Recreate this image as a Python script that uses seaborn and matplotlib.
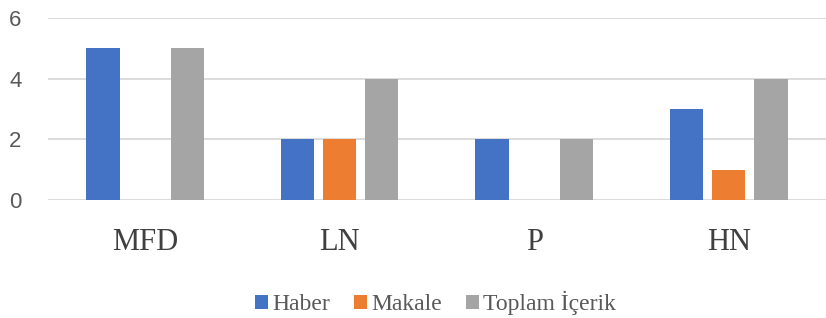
import seaborn as sns
import numpy as np
import pandas as pd
import matplotlib.pyplot as plt

# data
categories = ["MFD", "LN", "P", "HN"]
series_names = ["Haber", "Makale", "Toplam İçerik"]
haber = [5, 2, 2, 3]
makale = [0, 2, 0, 1]
toplam = [5, 4, 2, 4]
colors = ["#4472C4", "#ED7D31", "#A5A5A5"]

df = pd.DataFrame({
    "kategori": categories * 3,
    "seri": [series_names[0]] * 4 + [series_names[1]] * 4 + [series_names[2]] * 4,
    "deger": haber + makale + toplam,
})

sns.set_style("white")
fig = plt.figure(figsize=(8.26, 3.18), dpi=100)
ax = fig.add_axes([0.058, 0.371, 0.942, 0.572])

sns.barplot(data=df, x="kategori", y="deger", hue="seri", palette=colors,
            saturation=1, width=0.65, gap=0.21, linewidth=0, ax=ax, zorder=3)

ax.set_ylim(0, 6)
ax.set_yticks([0, 2, 4, 6])
ax.yaxis.grid(True, color="#D9D9D9", linewidth=1.3, zorder=0)
ax.set_axisbelow(True)
for s in ax.spines.values():
    s.set_visible(False)
ax.set_xlabel("")
ax.set_ylabel("")
ax.tick_params(axis="both", length=0)
ax.tick_params(axis="y", labelsize=16, labelcolor="#595959", pad=19)
for lab in ax.get_yticklabels():
    lab.set_family("Liberation Sans")
ax.tick_params(axis="x", labelsize=22, labelcolor="#404040", pad=20)
for lab in ax.get_xticklabels():
    lab.set_family("Liberation Serif")

h, l = ax.get_legend_handles_labels()
ax.legend(h, l, loc="center", bbox_to_anchor=(0.498, -0.566), ncol=3,
          frameon=False, handlelength=0.55, handleheight=0.55, handletextpad=0.2,
          columnspacing=1.0, borderaxespad=0, borderpad=0,
          prop={"family": "Liberation Serif", "size": 17}, labelcolor="#595959")

plt.savefig("out.png", dpi=100)
